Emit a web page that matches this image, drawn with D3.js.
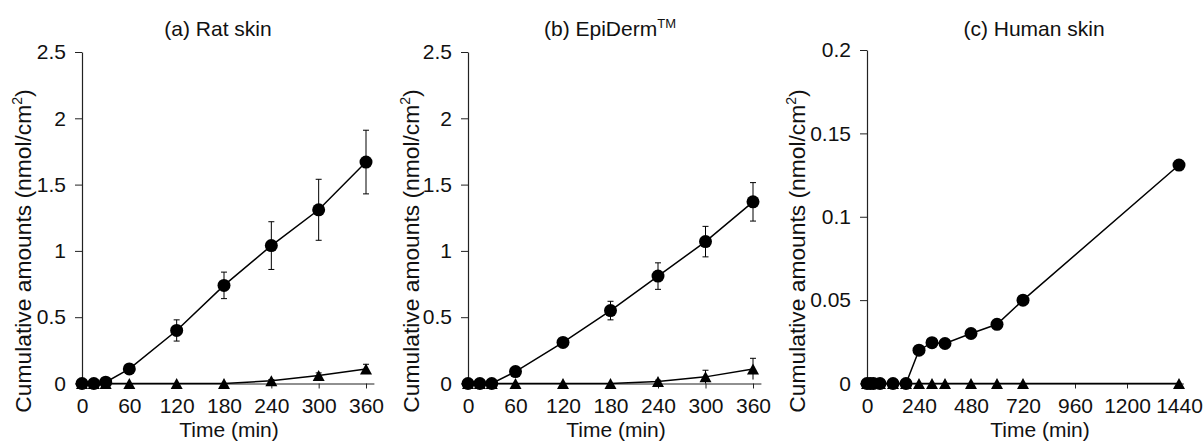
<!DOCTYPE html>
<html><head><meta charset="utf-8">
<script src="https://cdn.jsdelivr.net/npm/d3@7/dist/d3.min.js"></script>
<style>
body{margin:0;background:#fff;}
svg{display:block;font-family:"Liberation Sans",Arial,sans-serif;}
text{fill:#111;}
</style></head><body>
<svg id="c" width="1204" height="443"></svg>
<script>
// ---- data ----
const timeRat = [0, 15, 30, 60, 120, 180, 240, 300, 360];
const ratCircle = [0, 0, 0.01, 0.11, 0.40, 0.74, 1.04, 1.31, 1.67];
const ratCircleErr = [0, 0, 0, 0.01, 0.08, 0.10, 0.18, 0.23, 0.24];
const ratTriangle = [0, 0, 0, 0, 0, 0, 0.02, 0.06, 0.11];
const ratTriangleErr = [0, 0, 0, 0, 0, 0, 0.01, 0.02, 0.035];

const timeEpi = [0, 15, 30, 60, 120, 180, 240, 300, 360];
const epiCircle = [0, 0, 0, 0.09, 0.31, 0.55, 0.81, 1.07, 1.37];
const epiCircleErr = [0, 0, 0, 0.01, 0.02, 0.07, 0.10, 0.115, 0.145];
const epiTriangle = [0, 0, 0, 0, 0, 0, 0.015, 0.05, 0.11];
const epiTriangleErr = [0, 0, 0, 0, 0, 0, 0.01, 0.05, 0.08];

const timeHuman = [0, 15, 30, 60, 120, 180, 240, 300, 360, 480, 600, 720, 1440];
const humanCircle = [0, 0, 0, 0, 0, 0, 0.020, 0.0245, 0.024, 0.030, 0.0355, 0.050, 0.131];
const humanCircleErr = [0, 0, 0, 0, 0, 0, 0, 0, 0, 0, 0, 0, 0];
const humanTriangle = [0, 0, 0, 0, 0, 0, 0, 0, 0, 0, 0, 0, 0];
const humanTriangleErr = [0, 0, 0, 0, 0, 0, 0, 0, 0, 0, 0, 0, 0];

const ticksX360 = [0, 60, 120, 180, 240, 300, 360];
const ticksX1440 = [0, 240, 480, 720, 960, 1200, 1440];
const ticksY25 = [0, 0.5, 1, 1.5, 2, 2.5];
const ticksY02 = [0, 0.05, 0.1, 0.15, 0.2];
const tickLabelsY25 = ["0", "0.5", "1", "1.5", "2", "2.5"];
const tickLabelsY02 = ["0", "0.05", "0.1", "0.15", "0.2"];

const titles = ["(a) Rat skin", "(b) EpiDerm", "(c) Human skin"];
const xTitle = "Time (min)";
const yTitle = "Cumulative amounts (nmol/cm";

// ---- layout ----
const panels = [
  {title: titles[0], sup: null, t: timeRat, c: ratCircle, ce: ratCircleErr, tr: ratTriangle, te: ratTriangleErr,
   xMax: 370, x0: 82, pxPerUnit: 284/360, xTicks: ticksX360, yMax: 2.5, yTop: 52, yTicks: ticksY25, yLabels: tickLabelsY25,
   titleX: 218, xTitleX: 229, yTitleX: 23},
  {title: titles[1], sup: "TM", t: timeEpi, c: epiCircle, ce: epiCircleErr, tr: epiTriangle, te: epiTriangleErr,
   xMax: 370, x0: 468, pxPerUnit: 285/360, xTicks: ticksX360, yMax: 2.5, yTop: 52, yTicks: ticksY25, yLabels: tickLabelsY25,
   titleX: 610, xTitleX: 616, yTitleX: 411},
  {title: titles[2], sup: null, t: timeHuman, c: humanCircle, ce: humanCircleErr, tr: humanTriangle, te: humanTriangleErr,
   xMax: 1460, x0: 867, pxPerUnit: 312/1440, xTicks: ticksX1440, yMax: 0.2, yTop: 50, yTicks: ticksY02, yLabels: tickLabelsY02,
   titleX: 1034, xTitleX: 1040, yTitleX: 797}
];
const yBottom = 383.5;
const yTitleCY = 251;
const FS = 21;
const FSY = 22.8;

const svg = d3.select("#c");

function triPath(w, h){ return `M0,${-h/2}L${w/2},${h/2}L${-w/2},${h/2}Z`; }

panels.forEach(p => {
  const x = d3.scaleLinear().domain([0, p.xMax]).range([p.x0, p.x0 + p.xMax * p.pxPerUnit]);
  const y = d3.scaleLinear().domain([0, p.yMax]).range([yBottom, p.yTop]);
  const g = svg.append("g");

  const xa = g.append("g").attr("transform", `translate(0,${yBottom})`)
    .call(d3.axisBottom(x).tickValues(p.xTicks).tickSize(5).tickPadding(10).tickSizeOuter(0).tickFormat(d3.format("d")));
  const ya = g.append("g").attr("transform", `translate(${p.x0},0)`)
    .call(d3.axisLeft(y).tickValues(p.yTicks).tickSize(7).tickPadding(9).tickSizeOuter(0)
      .tickFormat((d, i) => p.yLabels[i]));
  [xa, ya].forEach(a => {
    a.select(".domain").attr("stroke", "#222").attr("stroke-width", 1.2);
    a.selectAll(".tick line").attr("stroke", "#222").attr("stroke-width", 1);
    a.selectAll(".tick text").attr("font-size", FS).attr("fill", "#111")
      .attr("font-family", '"Liberation Sans",Arial,sans-serif');
  });

  const rows = p.t.map((t, i) => ({t, c: p.c[i], ce: p.ce[i], tr: p.tr[i], te: p.te[i]}));
  const line = (key) => d3.line().x(d => x(d.t)).y(d => y(d[key]));

  g.append("path").datum(rows).attr("d", line("tr")).attr("fill", "none").attr("stroke", "#000").attr("stroke-width", 1.5);
  g.selectAll(".te").data(rows.filter(d => d.te > 0)).join("g").each(function(d){
    const s = d3.select(this);
    s.append("line").attr("x1", x(d.t)).attr("x2", x(d.t)).attr("y1", y(d.tr + d.te)).attr("y2", y(Math.max(0, d.tr - d.te))).attr("stroke", "#000").attr("stroke-width", 1);
    s.append("line").attr("x1", x(d.t) - 3).attr("x2", x(d.t) + 3).attr("y1", y(d.tr + d.te)).attr("y2", y(d.tr + d.te)).attr("stroke", "#000").attr("stroke-width", 1);
  });
  g.selectAll(".tri").data(rows).join("path").attr("d", triPath(12, 11))
    .attr("transform", d => `translate(${x(d.t)},${y(d.tr)})`).attr("fill", "#000");

  g.append("path").datum(rows).attr("d", line("c")).attr("fill", "none").attr("stroke", "#000").attr("stroke-width", 1.5);
  g.selectAll(".ce").data(rows.filter(d => d.ce > 0)).join("g").each(function(d){
    const s = d3.select(this);
    const top = y(d.c + d.ce), bot = y(d.c - d.ce);
    s.append("line").attr("x1", x(d.t)).attr("x2", x(d.t)).attr("y1", top).attr("y2", bot).attr("stroke", "#000").attr("stroke-width", 1);
    [top, bot].forEach(yy => s.append("line").attr("x1", x(d.t) - 3).attr("x2", x(d.t) + 3).attr("y1", yy).attr("y2", yy).attr("stroke", "#000").attr("stroke-width", 1));
  });
  g.selectAll(".cir").data(rows).join("circle").attr("cx", d => x(d.t)).attr("cy", d => y(d.c)).attr("r", 6.5).attr("fill", "#000");

  const tt = g.append("text").attr("x", p.titleX).attr("y", 36).attr("text-anchor", "middle").attr("font-size", FS).text(p.title);
  if (p.sup) tt.append("tspan").attr("font-size", 13).attr("dy", -8).text(p.sup);
  g.append("text").attr("x", p.xTitleX).attr("y", 437).attr("text-anchor", "middle").attr("font-size", FS).text(xTitle);
  const yt = g.append("text").attr("transform", `translate(${p.yTitleX},${yTitleCY}) rotate(-90)`)
    .attr("text-anchor", "middle").attr("dy", "0.35em").attr("font-size", FSY);
  yt.append("tspan").text(yTitle);
  yt.append("tspan").attr("font-size", 14).attr("dy", -9).text("2");
  yt.append("tspan").attr("dy", 9).text(")");
});
</script>
</body></html>
